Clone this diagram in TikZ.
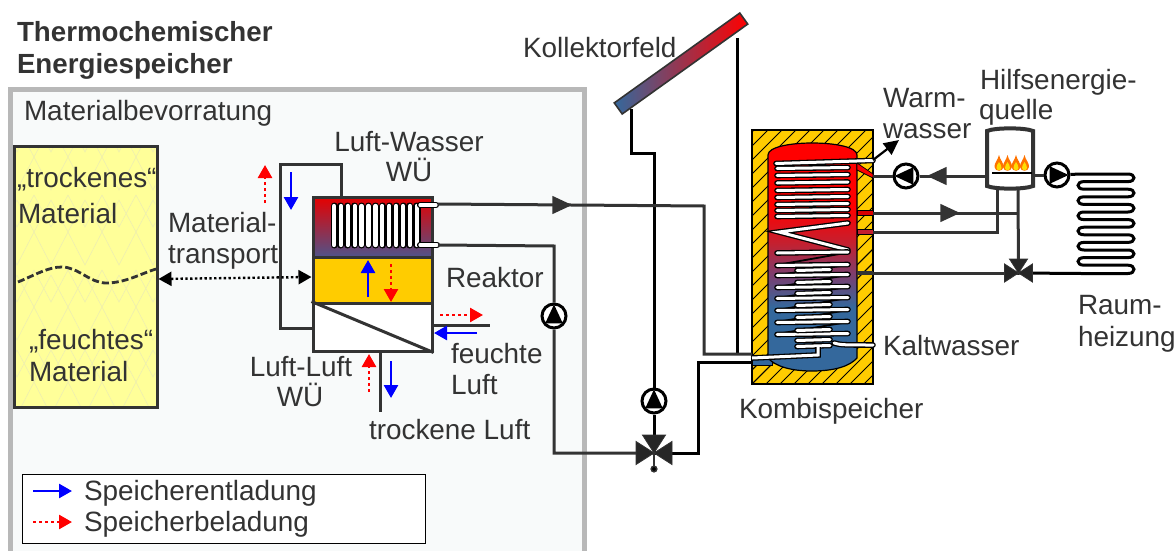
\documentclass[tikz,border=0pt]{standalone}
\usepackage{fontspec}
\setmainfont{Liberation Sans}
\usetikzlibrary{arrows.meta,calc,positioning,shapes.geometric}
\definecolor{ink}{HTML}{333333}
\definecolor{grayframe}{HTML}{B8B8B8}
\definecolor{panelfill}{HTML}{F8FAFA}
\definecolor{matyellow}{HTML}{FFFF99}
\definecolor{matline}{HTML}{EEEEB0}
\definecolor{gold}{HTML}{FFCC00}
\definecolor{hotred}{HTML}{FF0000}
\definecolor{coldblue}{HTML}{34689C}
\definecolor{midred}{HTML}{C42030}
\definecolor{midpurple}{HTML}{7B3F70}
\pgfdeclareverticalshading{tankshade}{100bp}{color(0bp)=(coldblue); color(39bp)=(coldblue); color(46bp)=(midpurple); color(53bp)=(midred); color(61bp)=(hotred); color(100bp)=(hotred)}
\tikzset{
  lbl/.style={inner sep=0pt,outer sep=0pt,text=ink,font=\fontsize{27.9}{30}\selectfont},
  lblw/.style={lbl,anchor=base west},
  lblc/.style={lbl,anchor=base},
  boldlbl/.style={lblw,font=\fontsize{27.7}{30}\selectfont\bfseries},
  pipe/.style={draw=ink,line width=3pt},
  bpipe/.style={draw=black,line width=3pt},
  pumpnode/.style={circle,draw=black,line width=3pt,fill=white,minimum size=24pt,inner sep=0pt},
  bluearrow/.style={draw=blue,line width=2.6pt,-{Triangle[length=13pt,width=14pt,fill=blue]}},
  redarrow/.style={draw=red,line width=2.6pt,dash pattern=on 3pt off 3pt,-{Triangle[length=13pt,width=14pt,fill=red]}},
  blacktip/.style={draw=black,line width=2.2pt,-{Triangle[length=15pt,width=14pt,fill=black]}},
  tubeout/.style={draw=black,line width=5.6pt,line cap=round},
  tubein/.style={draw=white,line width=3pt,line cap=round},
}
\newcommand{\hxtri}[4]{% point, angle, radius, colour
  \coordinate (hxc) at (#1);
  \fill[#4] ([shift={(#2:#3)}]hxc) -- ([shift={(#2+130:#3)}]hxc) -- ([shift={(#2+230:#3)}]hxc) -- cycle;}
\newcommand{\hxrow}[4]{% x1 y1 x2 y2
  \draw[tubeout] (#1,#2) -- (#3,#4);\draw[tubein] (#1,#2) -- (#3,#4);}
\newcommand{\hxvalve}[2]{% name, size
  \fill[black!85,draw=ink,line width=.8pt] (#1) -- ++(-#2-1,-.62*#2-1) -- ++(0,1.24*#2+2) -- cycle;
  \fill[black!85,draw=ink,line width=.8pt] (#1) -- ++(#2+1,-.62*#2-1) -- ++(0,1.24*#2+2) -- cycle;
  \fill[black!85,draw=ink,line width=.8pt] (#1) -- ++(-.62*#2-1,-#2-1) -- ++(1.24*#2+2,0) -- cycle;}
\newcommand{\hxflame}[1]{%
  \fill[orange!90!red] (#1,155) .. controls (#1+1,160) and (#1+5,163) .. (#1+4.5,167) .. controls (#1+4,172) and (#1-4,172) .. (#1-4.5,167) .. controls (#1-5,163) and (#1-1,160) .. (#1,155) -- cycle;
  \fill[yellow!80!orange] (#1,162) .. controls (#1+1,164) and (#1+3,166) .. (#1+2.5,168) .. controls (#1+2,171) and (#1-2,171) .. (#1-2.5,168) .. controls (#1-3,166) and (#1-1,164) .. (#1,162) -- cycle;}
\begin{document}
\begin{tikzpicture}[x=1pt,y=-1pt]
\useasboundingbox (0,0) rectangle (1176,551);
\fill[white] (0,0) rectangle (1176,551);

% panel
\path[fill=panelfill] (10.5,89.5) rectangle (584.5,551);
\draw[grayframe,line width=5pt] (10.5,553) -- (10.5,89.5) -- (584.5,89.5) -- (584.5,553);

% titles
\node[boldlbl] (t1) at (17,42) {Thermochemischer};
\node[boldlbl] (t2) at (17,74) {Energiespeicher};
\node[lblw] (tmb) at (24,121) {Materialbevorratung};

% material store
\node[draw=ink,line width=3pt,fill=matyellow,minimum width=143pt,minimum height=261pt,inner sep=0pt] (store) at (85.5,276.5) {};
\begin{scope}
\clip (16,148) rectangle (155,405);
\foreach \x in {0,34,...,170}{
  \foreach \k in {0,1,2,3}{
    \pgfmathsetmacro{\yy}{120+\k*75}
    \draw[matline,line width=.6pt] (\x,\yy) -- (\x+17,\yy+32) -- (\x+34,\yy) (\x,\yy+37) -- (\x+17,\yy+70) -- (\x+34,\yy+37) (\x+17,\yy+5) -- (\x+34,\yy+37) (\x+17,\yy+5) -- (\x,\yy+37);
  }
}
\end{scope}
\draw[ink,line width=2.8pt,dash pattern=on 7pt off 3pt] (18,282) .. controls (35,275) and (48,267) .. (62,267) .. controls (78,267) and (90,283) .. (106,283) .. controls (125,283) and (140,274) .. (156,269);
\node[lblw] (mt1) at (17,187) {„trockenes“};
\node[lblw] (mt2) at (18,223) {Material};
\node[lblw] (mf1) at (29,349) {„feuchtes“};
\node[lblw] (mf2) at (29,381) {Material};

% reactor
\node[draw=ink,line width=3pt,top color=hotred!90!black,bottom color=coldblue!80!purple,minimum width=119pt,minimum height=60pt,inner sep=0pt] (rtop) at (372.5,227) {};
\node[draw=ink,line width=3pt,fill=gold,minimum width=119pt,minimum height=46pt,inner sep=0pt] (rmid) at (372.5,280) {};
\node[draw=ink,line width=3pt,fill=white,minimum width=119pt,minimum height=48pt,inner sep=0pt] (rlow) at (372.5,327) {};
\draw[pipe] (rlow.north west) -- (rlow.south east);

% loop round the reactor
\coordinate (la) at (280,328);
\coordinate (lb) at (280,164);
\coordinate (lc) at (341,164);
\draw[pipe] (rlow.west |- la) -- (la) -- (lb) -- (lc) -- (lc |- rtop.north);

% air/water heat exchanger
\foreach \i in {0,...,12}{
  \pgfmathsetmacro{\xx}{334+\i*6.9}
  \draw[draw=black,line width=7pt,line cap=round] (\xx,206) -- (\xx,245);
}
\foreach \i in {0,...,12}{
  \pgfmathsetmacro{\xx}{334+\i*6.9}
  \draw[draw=white,line width=4.3pt,line cap=round] (\xx,206) -- (\xx,245);
}
\draw[black,line width=2pt] (420,206) -- (420,245);
\draw[draw=black,line width=6.2pt,line cap=round] (420,205) -- (436,205) (420,245) -- (437,245);
\draw[draw=white,line width=3.2pt,line cap=round] (420,205) -- (436,205) (420,245) -- (437,245);

% kombi store
\node[draw=black,line width=1.2pt,fill=gold,minimum width=121pt,minimum height=254pt,inner sep=0pt] (kombi) at (812.5,257) {};
\begin{scope}
\clip (752,130) rectangle (873,384);
\foreach \k in {0,14,...,400}{
  \draw[black,line width=.9pt] (740+\k-14,396) -- (740+\k-14+280,116);
  \draw[black,line width=.9pt] (740-\k,396) -- (740-\k+280,116);
}
\end{scope}
\fill[coldblue,draw=black,line width=.8pt] (752,355) rectangle (772,365);
\path[shading=tankshade,draw=black,line width=1.2pt] (768,155) .. controls (768,147) and (790,143) .. (812,143) .. controls (835,143) and (857,147) .. (857,155) -- (857,358) .. controls (850,366) and (835,371) .. (812,371) .. controls (790,371) and (775,366) .. (768,358) -- cycle;

% red/dark stubs through insulation
\fill[hotred,draw=black,line width=.7pt] (857,163) -- (873,174) -- (873,178) -- (857,170) -- cycle;
\fill[hotred!85!black,draw=black,line width=.7pt] (857,210.5) rectangle (873,215.5);
\fill[midred,draw=black,line width=.7pt] (857,229.5) rectangle (873,234.5);
\fill[ink] (857,270.5) rectangle (873,275);

% tubes of the storage
\hxrow{776}{163.5}{873}{160.5}
\foreach \yy in {168,175,182.5,190,197,204,210,216}{\hxrow{777}{\yy+.5}{848}{\yy-.5}}
\draw[tubeout] (848,223) -- (779,232) -- (848,250);
\draw[tubein] (848,223) -- (779,232) -- (848,250);
\foreach \ya/\yb in {252.5/265,265/275,275/287,287/298,298/310,310/322,322/334}{\draw[black,line width=1.8pt] (777,\yb) -- (848,\ya);}
\foreach \yy in {252.5,265,275,287,298,310,322,334}{\hxrow{777}{\yy+.5}{848}{\yy-.5}}
\foreach \yy in {270,282,293,305,317,330,340,346}{\hxrow{797}{\yy+.5}{830}{\yy-.5}}
\draw[tubeout] (834,343) .. controls (840,345) and (845,345) .. (873,345);
\draw[tubein] (834,343) .. controls (840,345) and (845,345) .. (873,345);
\draw[draw=black,line width=5.6pt] (818,347) -- (818,355) -- (752,358);
\draw[draw=white,line width=3pt] (818,347) -- (818,355) -- (752,358);

% pumps
\node[pumpnode] (pw) at (906,176) {};
\node[pumpnode] (pr) at (1057,175) {};
\node[pumpnode] (pk) at (654,401) {};
\node[pumpnode] (pl) at (554,316) {};

% burner
\node[minimum width=46pt,minimum height=60pt,inner sep=0pt] (burn) at (1010,158) {};
\draw[ink,line width=4pt,fill=white] (987,131) .. controls (995,127.5) and (1025,127.5) .. (1033,131) -- (1033,186) .. controls (1025,189.5) and (995,189.5) .. (987,186) -- cycle;
\hxflame{999}\hxflame{1007.5}\hxflame{1016}\hxflame{1024.5}
\draw[black,line width=1.5pt] (992,173) -- (1032,173);

% valves
\coordinate (v1) at (654,453);
\coordinate (v2) at (1018.5,273);
\coordinate (vstem) at (654,469);

% pipes, right
\coordinate (kw1) at (873,176);
\coordinate (kw2) at (873,213);
\coordinate (kw3) at (873,232);
\coordinate (kw4) at (873,273);
\coordinate (bl) at (997,186);
\coordinate (br) at (1018,188);
\draw[pipe] (kw1) -- (pw) (pw) -- (kw1 -| burn.west);
\draw[pipe] (kw2) -- (br |- kw2);
\draw[pipe] (kw3) -- (bl |- kw3) -- (bl);
\draw[pipe] (br) -- (v2);
\draw[pipe] (kw4) -- (v2);
\draw[pipe] (1033,175) -- (pr);
\hxtri{939,176}{180}{12}{ink}
\hxtri{948,213}{0}{12}{ink}

% radiator coil
\coordinate (ca) at (1081,174);
\coordinate (ce) at (1081,273.5);
\draw[bpipe] (pr) -- (ca) -- (1128,174)
  .. controls (1136,174) and (1136,181.6) .. (1128,181.6) -- (1084,181.6)
  .. controls (1076,181.6) and (1076,189.2) .. (1084,189.2) -- (1128,189.2)
  .. controls (1136,189.2) and (1136,196.8) .. (1128,196.8) -- (1084,196.8)
  .. controls (1076,196.8) and (1076,204.4) .. (1084,204.4) -- (1128,204.4)
  .. controls (1136,204.4) and (1136,212) .. (1128,212) -- (1084,212)
  .. controls (1076,212) and (1076,219.6) .. (1084,219.6) -- (1128,219.6)
  .. controls (1136,219.6) and (1136,227.2) .. (1128,227.2) -- (1084,227.2)
  .. controls (1076,227.2) and (1076,234.8) .. (1084,234.8) -- (1128,234.8)
  .. controls (1136,234.8) and (1136,242.4) .. (1128,242.4) -- (1084,242.4)
  .. controls (1076,242.4) and (1076,250) .. (1084,250) -- (1128,250)
  .. controls (1136,250) and (1136,257.6) .. (1128,257.6) -- (1084,257.6)
  .. controls (1076,257.6) and (1076,265.2) .. (1084,265.2) -- (1128,265.2)
  .. controls (1136,265.2) and (1136,273.5) .. (1128,273.5) -- (ce) -- (v2);
\hxvalve{v2}{13}

% warm water outlet
\coordinate (wwa) at (873,160);
\coordinate (wwb) at (899,140);
\draw[blacktip] (wwa) -- (wwb);

% collector
\node[draw=ink,line width=1.6pt,left color=coldblue,right color=hotred,minimum width=154.4pt,minimum height=13.6pt,inner sep=0pt,rotate=35.6] (coll) at (681,63.5) {};
\coordinate (ca1) at (631,109);
\coordinate (ca2) at (631,153);
\coordinate (ca3) at (654,153);
\coordinate (cb1) at (737,38);
\coordinate (cb2) at (737,355);
\draw[bpipe] (ca1) -- (ca2) -- (ca3) -- (pk) -- (v1);
\draw[bpipe] (cb1) -- (cb2);

% solar and reactor pipes
\coordinate (ra1) at (438,204);
\coordinate (ra2) at (704,206);
\coordinate (ra3) at (704,354);
\coordinate (ra4) at (752,354);
\coordinate (rb1) at (438,245);
\coordinate (rb2) at (554,246);
\coordinate (rb3) at (554,453);
\coordinate (ka1) at (752,362);
\coordinate (ka2) at (698,362);
\coordinate (ka3) at (698,453);
\draw[pipe] (ra1) -- (ra2) -- (ra3) -- (ra4);
\hxtri{560,205}{0}{12}{ink}
\draw[pipe] (rb1) -- (rb2) -- (pl) -- (rb3) -- (v1);
\draw[bpipe] (ka1) -- (ka2) -- (ka3) -- (v1);
\draw[ink,line width=1.5pt] (v1) -- (vstem);
\draw[ink,line width=1.5pt,fill=black] (vstem) circle (2.8);
\hxvalve{v1}{17}

% pump symbols
\hxtri{pw}{180}{11.5}{black}
\hxtri{pr}{0}{11.5}{black}
\hxtri{pk}{270}{11.5}{black}
\hxtri{pl}{270}{11.5}{black}

% reactor side pipes
\coordinate (fa) at (490,325);
\coordinate (ta) at (380,412);
\draw[pipe] (rlow.east |- fa) -- (fa);
\draw[pipe] (rlow.south -| ta) -- (ta);

% material transport
\draw[draw=black,line width=2.4pt,dash pattern=on 2.4pt off 2.4pt,{Triangle[length=13pt,width=14pt,fill=black]}-{Triangle[length=13pt,width=14pt,fill=black]}] (store.east |- 0,279) -- (rmid.west |- 0,277);

% flow arrows
\coordinate (a1) at (265,203); \coordinate (a1e) at (265,165);
\coordinate (a2) at (291,172); \coordinate (a2e) at (291,210);
\coordinate (a3) at (368,297); \coordinate (a3e) at (368,260);
\coordinate (a4) at (391,264); \coordinate (a4e) at (391,302);
\coordinate (a5) at (440,315); \coordinate (a5e) at (483,315);
\coordinate (a6) at (477,333); \coordinate (a6e) at (434,333);
\coordinate (a7) at (369,392); \coordinate (a7e) at (369,354);
\coordinate (a8) at (391,361); \coordinate (a8e) at (391,398);
\draw[redarrow] (a1) -- (a1e);
\draw[bluearrow] (a2) -- (a2e);
\draw[bluearrow] (a3) -- (a3e);
\draw[redarrow] (a4) -- (a4e);
\draw[redarrow] (a5) -- (a5e);
\draw[bluearrow] (a6) -- (a6e);
\draw[redarrow] (a7) -- (a7e);
\draw[bluearrow] (a8) -- (a8e);

% labels
\node[lblc] (lw1) at (409,151) {Luft-Wasser};
\node[lblc] (lw2) at (409,181) {WÜ};
\node[lblw] (tr1) at (168,232) {Material-};
\node[lblw] (tr2) at (168,263) {transport};
\node[lblw] (re) at (446,287) {Reaktor};
\node[lblw] (fe1) at (451,363) {feuchte};
\node[lblw] (fe2) at (451,394) {Luft};
\node[lblc] (ll1) at (301,376) {Luft-Luft};
\node[lblc] (ll2) at (300,406) {WÜ};
\node[lblw] (tl) at (369,439) {trockene Luft};
\node[lblw] (kf) at (523,58) {Kollektorfeld};
\node[lblw] (ww1) at (883,107) {Warm-};
\node[lblw] (ww2) at (883,139) {wasser};
\node[lblw] (he1) at (980,90) {Hilfsenergie-};
\node[lblw] (he2) at (979,120) {quelle};
\node[lblw] (rh1) at (1078,314) {Raum-};
\node[lblw] (rh2) at (1078,346) {heizung};
\node[lblw] (kw) at (883,355) {Kaltwasser};
\node[lblw] (ks) at (739,418) {Kombispeicher};

% legend
\node[draw=black,line width=1pt,fill=white,minimum width=403pt,minimum height=69pt,inner sep=0pt] (leg) at (223.5,508.5) {};
\coordinate (l1a) at (33,491); \coordinate (l1b) at (72,491);
\coordinate (l2a) at (33,522); \coordinate (l2b) at (72,522);
\draw[bluearrow] (l1a) -- (l1b);
\draw[redarrow] (l2a) -- (l2b);
\node[lblw] (ls1) at (84,500) {Speicherentladung};
\node[lblw] (ls2) at (84,531) {Speicherbeladung};
\end{tikzpicture}
\end{document}
